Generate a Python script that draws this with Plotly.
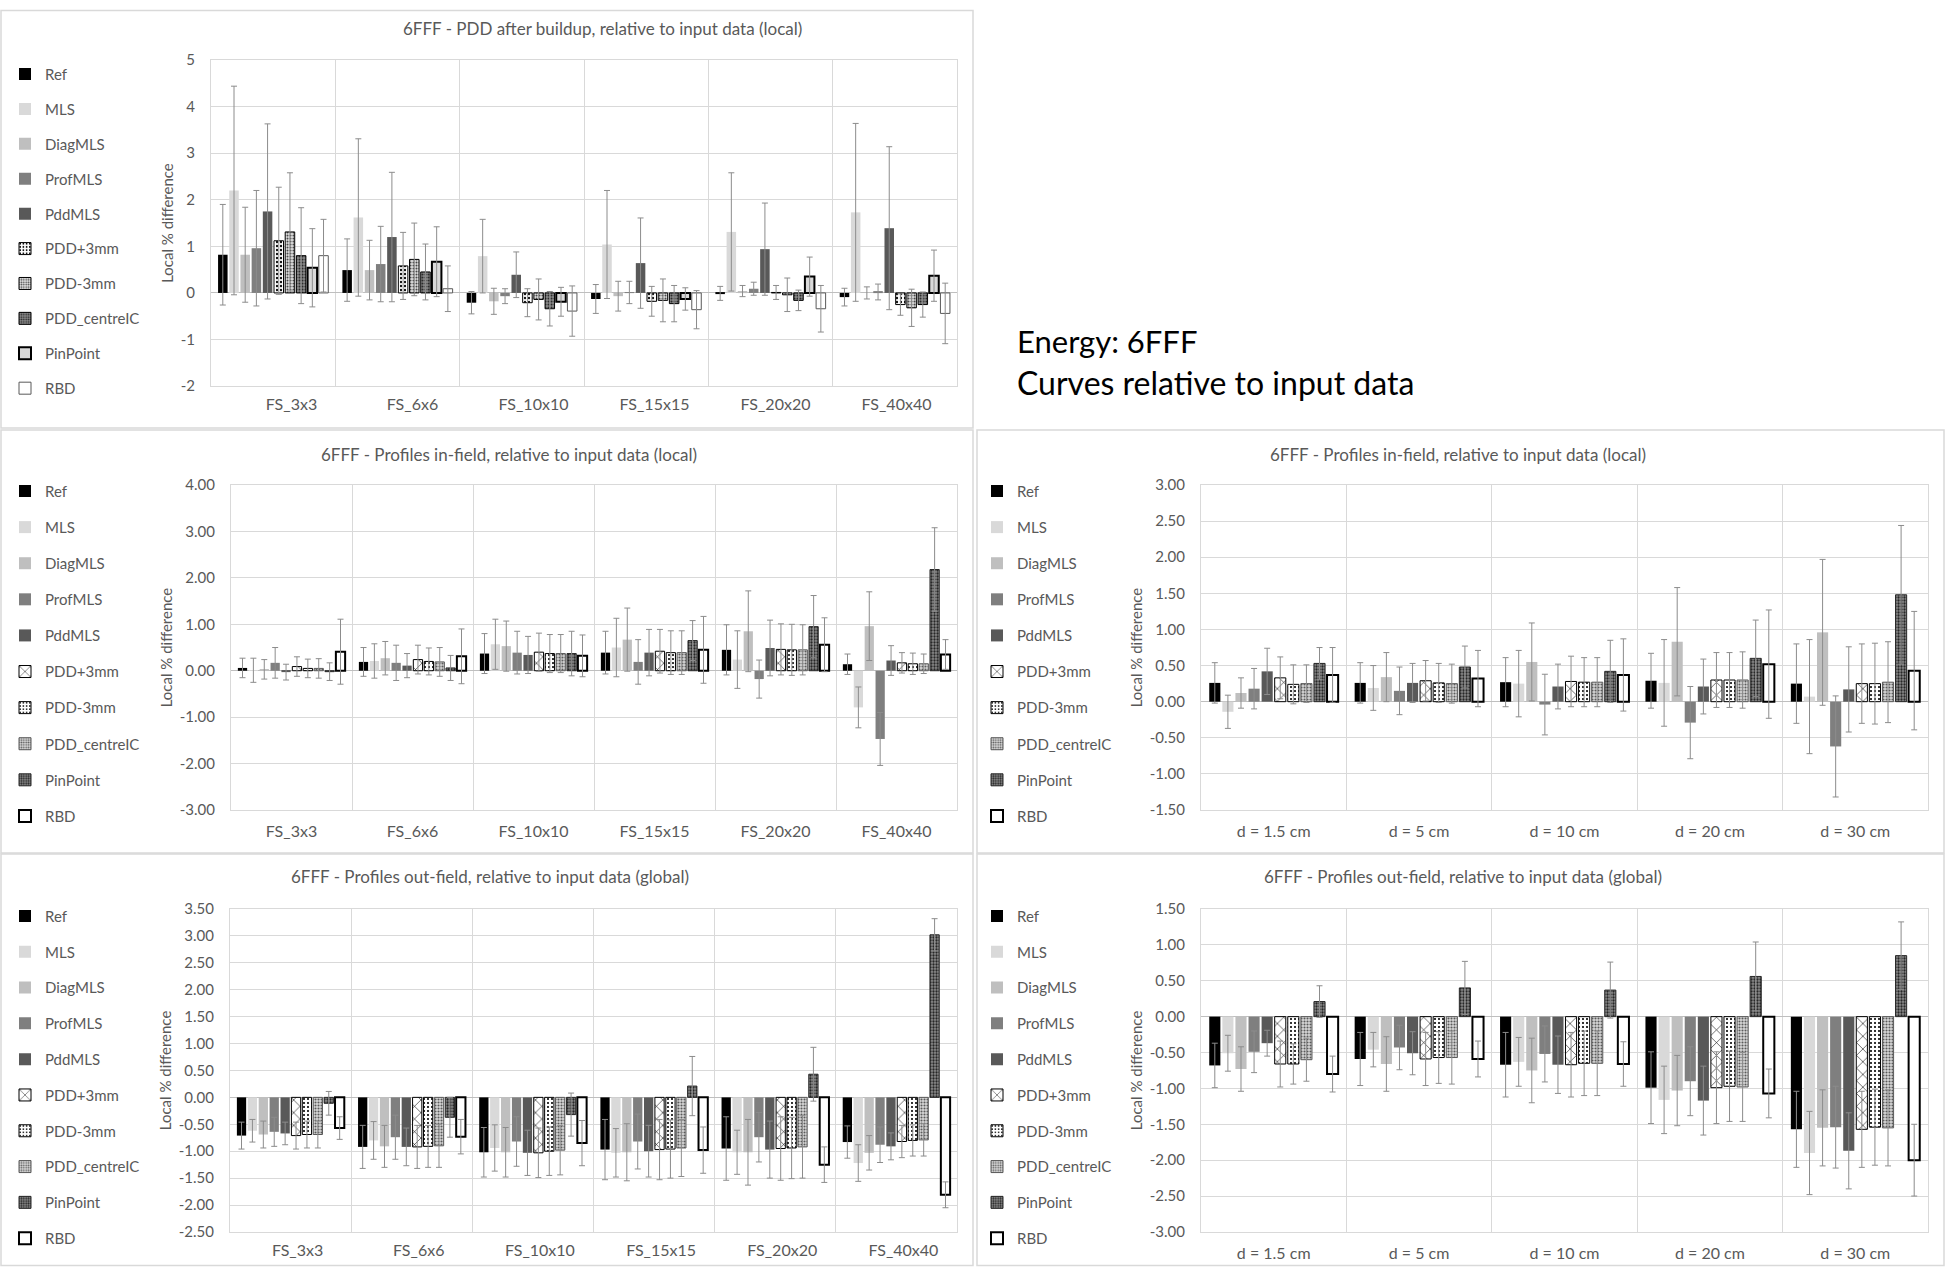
import plotly.graph_objects as go

W, H = 1946, 1274

series = ["Ref", "MLS", "DiagMLS", "ProfMLS", "PddMLS",
          "PDD+3mm", "PDD-3mm", "PDD_centreIC", "PinPoint", "RBD"]
fs_labels = ["FS_3x3", "FS_6x6", "FS_10x10", "FS_15x15", "FS_20x20", "FS_40x40"]
depth_labels = ["d = 1.5 cm", "d = 5 cm", "d = 10 cm", "d = 20 cm", "d = 30 cm"]

# PDD after buildup (local), per series over field sizes
pdd_mean = [
    [0.82, 0.49, -0.21, -0.13, -0.01, -0.09],
    [2.20, 1.62, 0.79, 1.04, 1.31, 1.73],
    [0.82, 0.49, -0.18, -0.07, 0.04, 0.00],
    [0.96, 0.62, -0.07, 0.01, 0.09, 0.02],
    [1.75, 1.20, 0.39, 0.64, 0.94, 1.39],
    [1.12, 0.58, -0.21, -0.18, 0.01, -0.25],
    [1.31, 0.72, -0.14, -0.16, -0.04, -0.32],
    [0.80, 0.45, -0.34, -0.23, -0.16, -0.25],
    [0.54, 0.67, -0.19, -0.13, 0.35, 0.37],
    [0.80, 0.09, -0.39, -0.36, -0.34, -0.44],
]
pdd_err = [
    [1.08, 0.67, 0.24, 0.31, 0.15, 0.19],
    [2.24, 1.69, 0.79, 1.16, 1.27, 1.91],
    [1.02, 0.64, 0.28, 0.32, 0.12, 0.13],
    [1.24, 0.81, 0.16, 0.24, 0.14, 0.17],
    [1.88, 1.39, 0.49, 0.97, 0.99, 1.75],
    [1.15, 0.72, 0.30, 0.32, 0.15, 0.23],
    [1.27, 0.78, 0.44, 0.46, 0.36, 0.40],
    [1.03, 0.60, 0.37, 0.39, 0.22, 0.27],
    [0.84, 0.75, 0.31, 0.24, 0.42, 0.55],
    [0.78, 0.49, 0.54, 0.41, 0.50, 0.65],
]

# Profiles in-field (local), over field sizes
infield_fs_mean = [
    [0.06, 0.19, 0.37, 0.39, 0.45, 0.14],
    [0.01, 0.21, 0.57, 0.50, 0.24, -0.79],
    [0.03, 0.27, 0.53, 0.67, 0.85, 0.96],
    [0.17, 0.17, 0.39, 0.19, -0.18, -1.47],
    [-0.03, 0.11, 0.34, 0.39, 0.49, 0.22],
    [0.09, 0.24, 0.40, 0.42, 0.46, 0.17],
    [0.05, 0.20, 0.37, 0.39, 0.45, 0.15],
    [0.05, 0.19, 0.37, 0.39, 0.45, 0.15],
    [-0.02, 0.06, 0.37, 0.65, 0.95, 2.18],
    [0.41, 0.31, 0.32, 0.45, 0.56, 0.35],
]
infield_fs_err = [
    [0.21, 0.31, 0.43, 0.46, 0.54, 0.22],
    [0.26, 0.37, 0.54, 0.63, 0.62, 0.44],
    [0.21, 0.36, 0.54, 0.68, 0.87, 0.74],
    [0.33, 0.38, 0.46, 0.48, 0.41, 0.57],
    [0.17, 0.26, 0.40, 0.50, 0.60, 0.32],
    [0.21, 0.31, 0.41, 0.47, 0.55, 0.22],
    [0.20, 0.29, 0.41, 0.47, 0.55, 0.23],
    [0.21, 0.31, 0.41, 0.47, 0.54, 0.21],
    [0.19, 0.27, 0.48, 0.43, 0.67, 0.90],
    [0.70, 0.59, 0.45, 0.72, 0.58, 0.32],
]

# Profiles in-field (local), over depths
infield_d_mean = [
    [0.26, 0.26, 0.27, 0.29, 0.25],
    [-0.14, 0.19, 0.25, 0.26, 0.07],
    [0.12, 0.34, 0.55, 0.83, 0.96],
    [0.18, 0.15, -0.04, -0.29, -0.62],
    [0.42, 0.26, 0.21, 0.21, 0.17],
    [0.33, 0.29, 0.28, 0.30, 0.25],
    [0.24, 0.26, 0.27, 0.30, 0.25],
    [0.25, 0.25, 0.27, 0.30, 0.27],
    [0.53, 0.48, 0.42, 0.60, 1.48],
    [0.37, 0.32, 0.37, 0.52, 0.43],
]
infield_d_err = [
    [0.28, 0.28, 0.34, 0.38, 0.55],
    [0.23, 0.31, 0.46, 0.60, 0.79],
    [0.21, 0.34, 0.54, 0.75, 1.01],
    [0.28, 0.33, 0.42, 0.50, 0.70],
    [0.32, 0.27, 0.31, 0.38, 0.59],
    [0.29, 0.28, 0.35, 0.38, 0.55],
    [0.27, 0.27, 0.34, 0.38, 0.56],
    [0.26, 0.27, 0.34, 0.39, 0.56],
    [0.22, 0.29, 0.43, 0.53, 0.96],
    [0.38, 0.39, 0.50, 0.75, 0.82],
]

# Profiles out-field (global), over field sizes
outfield_fs_mean = [
    [-0.71, -0.92, -1.02, -0.97, -0.95, -0.83],
    [-0.62, -0.80, -0.94, -1.03, -1.02, -1.22],
    [-0.69, -0.91, -1.02, -1.02, -1.02, -1.03],
    [-0.64, -0.74, -0.82, -0.82, -0.74, -0.88],
    [-0.67, -0.92, -1.03, -1.00, -0.97, -0.91],
    [-0.71, -0.92, -1.03, -0.97, -0.95, -0.82],
    [-0.69, -0.91, -1.00, -0.96, -0.94, -0.80],
    [-0.69, -0.90, -0.98, -0.94, -0.92, -0.79],
    [-0.11, -0.37, -0.32, 0.21, 0.43, 3.02],
    [-0.57, -0.73, -0.85, -0.98, -1.25, -1.81],
]
outfield_fs_err = [
    [0.25, 0.40, 0.46, 0.56, 0.59, 0.30],
    [0.21, 0.35, 0.43, 0.45, 0.41, 0.34],
    [0.25, 0.39, 0.46, 0.53, 0.61, 0.32],
    [0.27, 0.41, 0.46, 0.51, 0.46, 0.33],
    [0.21, 0.35, 0.42, 0.48, 0.53, 0.25],
    [0.25, 0.40, 0.46, 0.56, 0.59, 0.30],
    [0.25, 0.39, 0.45, 0.54, 0.57, 0.29],
    [0.25, 0.40, 0.46, 0.53, 0.58, 0.30],
    [0.22, 0.37, 0.40, 0.55, 0.50, 0.30],
    [0.21, 0.32, 0.42, 0.43, 0.33, 0.24],
]

# Profiles out-field (global), over depths
outfield_d_mean = [
    [-0.68, -0.59, -0.67, -0.99, -1.57],
    [-0.51, -0.46, -0.63, -1.16, -1.90],
    [-0.73, -0.66, -0.75, -1.03, -1.55],
    [-0.49, -0.43, -0.52, -0.90, -1.54],
    [-0.37, -0.51, -0.67, -1.17, -1.87],
    [-0.66, -0.59, -0.67, -0.99, -1.57],
    [-0.66, -0.57, -0.65, -0.97, -1.54],
    [-0.60, -0.57, -0.65, -0.98, -1.55],
    [0.21, 0.40, 0.37, 0.56, 0.85],
    [-0.80, -0.59, -0.66, -1.07, -2.00],
]
outfield_d_err = [
    [0.31, 0.37, 0.45, 0.50, 0.53],
    [0.25, 0.24, 0.34, 0.47, 0.58],
    [0.31, 0.38, 0.45, 0.49, 0.53],
    [0.29, 0.31, 0.39, 0.48, 0.57],
    [0.18, 0.30, 0.40, 0.48, 0.53],
    [0.32, 0.37, 0.45, 0.50, 0.53],
    [0.28, 0.36, 0.45, 0.49, 0.53],
    [0.30, 0.37, 0.45, 0.48, 0.53],
    [0.22, 0.37, 0.39, 0.48, 0.47],
    [0.25, 0.25, 0.31, 0.34, 0.50],
]

grid = "#d9d9d9"
txt = "#595959"


def Y(y):
    # the page comes out a little squeezed vertically, so map target px to layout px
    return min(max((y - 8.9) / 0.986, 0.5), H - 0.5)


def mk(fill, line=None, lw=0, shape="", fg=None, bg=None, size=6, solidity=0.3):
    m = dict(color=fill, line=dict(color=line or fill, width=lw))
    if shape:
        m["pattern"] = dict(shape=shape, fgcolor=fg, bgcolor=bg or fill,
                            size=size, solidity=solidity, fillmode="replace")
    return m


solid = [mk("#000000"), mk("#d9d9d9"), mk("#bfbfbf"), mk("#7f7f7f"), mk("#595959")]

# first chart uses a slightly different look for the last five series
style_pdd = solid + [
    mk("white", "black", 1, ".", "black", "white", 4, 0.25),
    mk("#d9d9d9", "black", 1, ".", "#404040", "#e6e6e6", 3, 0.4),
    mk("#7f7f7f", "black", 1, ".", "#262626", "#8c8c8c", 3, 0.4),
    mk("#d9d9d9", "black", 2),
    mk("white", "#595959", 1),
]
style_prof = solid + [
    mk("white", "black", 1, "x", "black", "white", 9, 0.12),
    mk("white", "black", 1, ".", "black", "white", 4, 0.22),
    mk("#d9d9d9", "#595959", 1, ".", "#595959", "#d9d9d9", 3, 0.4),
    mk("#7f7f7f", "#262626", 1, ".", "#262626", "#8c8c8c", 3, 0.45),
    mk("white", "black", 2),
]

# (cats, means, errs, styles, plot x px, plot y px, label x px, y-range, dtick, decimals,
#  title, title pos, legend x / first item y / gap)
panels = [
    (fs_labels, pdd_mean, pdd_err, style_pdd, (211, 957), (59, 385), (231, 957), (-2, 5), 1, 0,
     "6FFF - PDD after buildup, relative to input data (local)", (602, 27), (5, 73, 12.4)),
    (fs_labels, infield_fs_mean, infield_fs_err, style_prof, (231, 957), (484, 809), None, (-3, 4), 1, 2,
     "6FFF - Profiles in-field, relative to input data (local)", (509, 453), (5, 490, 13.6)),
    (depth_labels, infield_d_mean, infield_d_err, style_prof, (1201, 1928), (484, 809), None, (-1.5, 3), 0.5, 2,
     "6FFF - Profiles in-field, relative to input data (local)", (1458, 453), (977, 490, 13.6)),
    (fs_labels, outfield_fs_mean, outfield_fs_err, style_prof, (230, 957), (908, 1231), (237, 964), (-2.5, 3.5), 0.5, 2,
     "6FFF - Profiles out-field, relative to input data (global)", (490, 876), (5, 915, 13.3)),
    (depth_labels, outfield_d_mean, outfield_d_err, style_prof, (1201, 1928), (908, 1231), None, (-3, 1.5), 0.5, 2,
     "6FFF - Profiles out-field, relative to input data (global)", (1463, 876), (977, 915, 13.3)),
]

fig = go.Figure()
layout = {}
annotations = []

for k, (cats, means, errs, styles, xd, yd, lab, yr, dt, dec, title, tpos, lpos) in enumerate(panels, start=1):
    sfx = "" if k == 1 else str(k)
    leg = "legend" + sfx
    ydom = [1 - Y(yd[1]) / H, 1 - Y(yd[0]) / H]
    for i, name in enumerate(series):
        fig.add_trace(go.Bar(
            x=cats,
            y=means[i],
            name=name,
            marker=styles[i],
            error_y=dict(type="data", array=errs[i], color="#8c8c8c", thickness=1, width=3),
            xaxis="x" + sfx,
            yaxis="y" + sfx,
            legend=leg,
            legendgroup=f"p{k}_{name}",
        ))

    n = int(round((yr[1] - yr[0]) / dt))
    tv = [round(yr[0] + j * dt, 2) for j in range(n + 1)]
    tt = [f"{v:.{dec}f}" for v in tv]

    layout["xaxis" + sfx] = dict(
        domain=[xd[0] / W, xd[1] / W], anchor="y" + sfx, type="category",
        tickson="boundaries", showgrid=True, gridcolor=grid, gridwidth=1,
        showline=True, linecolor=grid, mirror=True, ticks="",
        showticklabels=lab is None,
        ticklabelstandoff=7, tickfont=dict(size=16, color=txt),
    )
    if lab is not None:
        # category labels sit a bit off the bar groups in the original:
        # carry them on a separate, otherwise empty, label axis
        j = k + 5
        fig.add_trace(go.Scatter(
            x=cats, y=[0] * len(cats), mode="markers",
            marker=dict(size=1, opacity=0), hoverinfo="skip", showlegend=False,
            xaxis=f"x{j}", yaxis=f"y{j}",
        ))
        layout[f"xaxis{j}"] = dict(
            domain=[lab[0] / W, lab[1] / W], anchor=f"y{j}",
            type="category", range=[-0.5, len(cats) - 0.5],
            showgrid=False, zeroline=False, showline=False, ticks="",
            ticklabelstandoff=7, tickfont=dict(size=16, color=txt),
        )
        layout[f"yaxis{j}"] = dict(
            domain=ydom, anchor=f"x{j}", range=[1, 2],
            showgrid=False, zeroline=False, showline=False, showticklabels=False, ticks="",
        )
    layout["yaxis" + sfx] = dict(
        domain=ydom, anchor="x" + sfx, range=list(yr),
        tickvals=tv, ticktext=tt, showgrid=True, gridcolor=grid,
        zeroline=True, zerolinecolor="#bfbfbf", zerolinewidth=1,
        showline=True, linecolor=grid, mirror=True, ticks="",
        ticklabelstandoff=12, tickfont=dict(size=15, color=txt),
        title=dict(text="Local % difference", font=dict(size=15, color=txt), standoff=3),
    )
    layout[leg] = dict(
        x=lpos[0] / W, y=1 - (Y(lpos[1]) - 16.5) / H, xanchor="left", yanchor="top",
        bgcolor="rgba(0,0,0,0)", font=dict(size=15, color=txt),
        tracegroupgap=lpos[2], itemwidth=30,
    )
    annotations.append(dict(
        text=title, x=tpos[0] / W, y=1 - Y(tpos[1]) / H, xref="paper", yref="paper",
        xanchor="center", yanchor="middle", showarrow=False,
        font=dict(size=17, color=txt),
    ))

annotations.append(dict(text="Energy: 6FFF", x=1015 / W, y=1 - Y(340) / H, xref="paper", yref="paper",
                        xanchor="left", yanchor="middle", showarrow=False,
                        font=dict(size=31, color="black")))
annotations.append(dict(text="Curves relative to input data", x=1015 / W, y=1 - Y(381) / H,
                        xref="paper", yref="paper", xanchor="left", yanchor="middle",
                        showarrow=False, font=dict(size=32, color="black")))

# chart frames
boxes = [(1, 1, 973, 427), (1, 429, 973, 852), (977, 429, 1944, 852),
         (1, 853, 973, 1272), (977, 853, 1944, 1272)]
shapes = [dict(type="rect", xref="paper", yref="paper",
               x0=b[0] / W, x1=b[2] / W, y0=1 - Y(b[3]) / H, y1=1 - Y(b[1]) / H,
               line=dict(color=grid, width=1.5), fillcolor="rgba(0,0,0,0)")
          for b in boxes]

fig.update_layout(
    width=W, height=H,
    margin=dict(l=0, r=0, t=0, b=0),
    paper_bgcolor="white",
    plot_bgcolor="rgba(0,0,0,0)",
    barmode="group",
    bargap=0.1,
    bargroupgap=0.15,
    font=dict(family="Lato", size=15, color=txt),
    annotations=annotations,
    shapes=shapes,
    **layout,
)

page_fix = ("document.documentElement.style.margin='0';"
            "document.body.style.margin='0';document.body.style.padding='0';"
            "document.documentElement.style.overflow='hidden';"
            "document.body.style.overflow='hidden';window.scrollTo(0,0);")

fig.write_html("out.html", config={"displayModeBar": False}, post_script=page_fix)
